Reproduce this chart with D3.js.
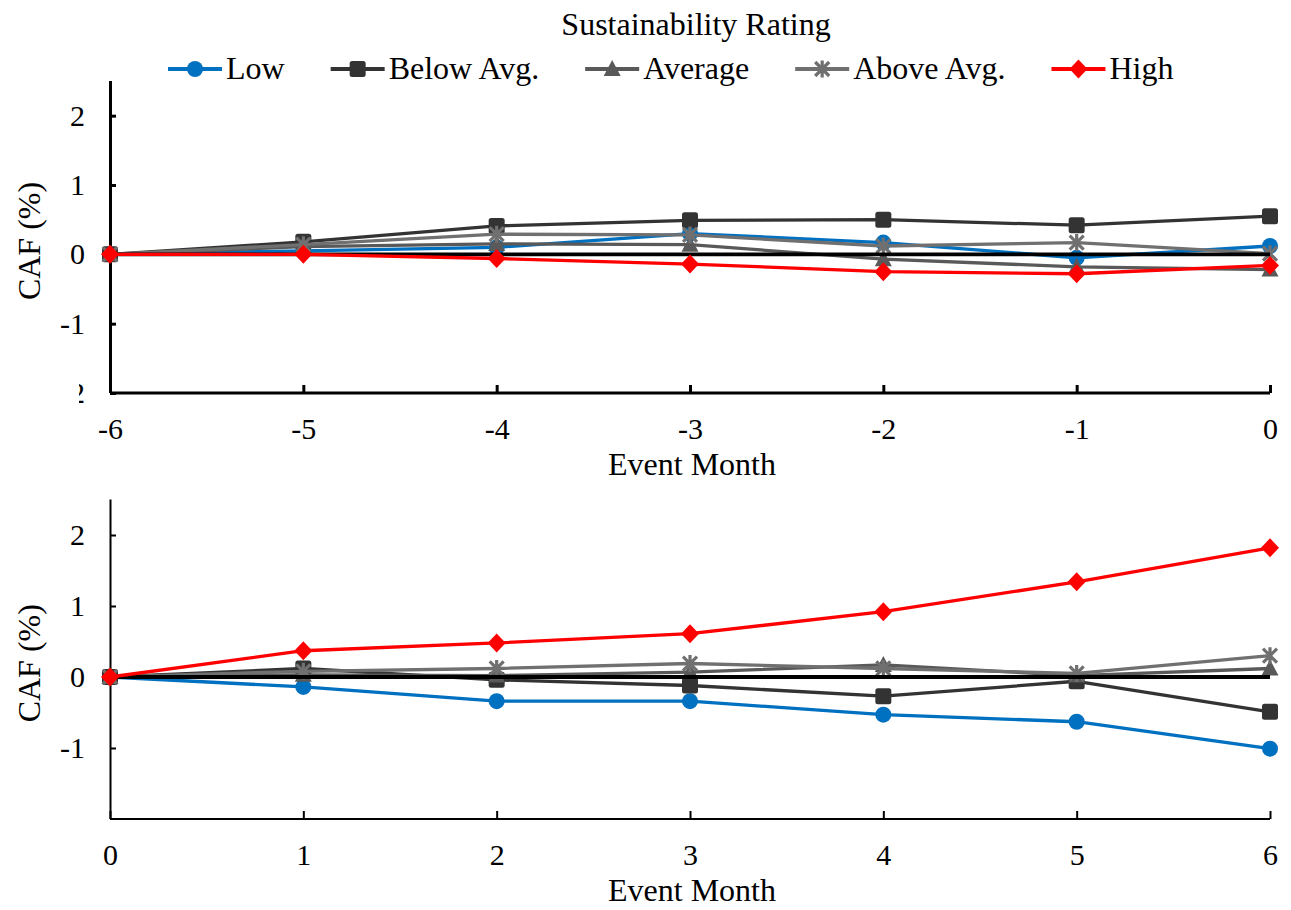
<!DOCTYPE html>
<html>
<head>
<meta charset="utf-8">
<script src="https://cdn.jsdelivr.net/npm/d3@7"></script>
<style>
  body { margin: 0; background: #fff; }
  text { font-family: "Liberation Serif", "Times New Roman", serif; fill: #000; }
</style>
</head>
<body>
<script>
// months on the x axis of each panel
const preMonths = [-6, -5, -4, -3, -2, -1, 0];
const postMonths = [0, 1, 2, 3, 4, 5, 6];

const seriesNames = ['Low', 'Below Avg.', 'Average', 'Above Avg.', 'High'];

// CAF (%) before the event
const preLow = [0, 0.05, 0.10, 0.30, 0.17, -0.05, 0.12];
const preBelow = [0, 0.18, 0.41, 0.49, 0.50, 0.42, 0.55];
const preAverage = [0, 0.11, 0.15, 0.14, -0.07, -0.18, -0.22];
const preAbove = [0, 0.14, 0.29, 0.28, 0.12, 0.17, 0.01];
const preHigh = [0, 0.0, -0.06, -0.14, -0.25, -0.28, -0.16];

// CAF (%) after the event
const postLow = [0, -0.14, -0.34, -0.34, -0.53, -0.63, -1.01];
const postBelow = [0, 0.12, -0.04, -0.12, -0.27, -0.06, -0.49];
const postAverage = [0, 0.03, 0.02, 0.07, 0.17, 0.02, 0.12];
const postAbove = [0, 0.08, 0.12, 0.19, 0.12, 0.05, 0.30];
const postHigh = [0, 0.37, 0.48, 0.61, 0.92, 1.34, 1.82];

const yTicksTop = [-2, -1, 0, 1, 2];
const yTicksBottom = [-1, 0, 1, 2];

const W = 1291, H = 910;
const TICK_FONT = 30;
const LABEL_FONT = 32;

const styles = {
    'Low': { color: '#0070C0', marker: 'circle' },
    'Below Avg.': { color: '#333333', marker: 'square' },
    'Average': { color: '#595959', marker: 'triangle' },
    'Above Avg.': { color: '#707070', marker: 'star' },
    'High': { color: '#FF0000', marker: 'diamond' }
};

const svg = d3.select('body').append('svg')
    .attr('width', W)
    .attr('height', H);

// draw a marker into a group at 0,0
function drawMarker(g, name) {
    const st = styles[name];
    if (st.marker === 'circle') {
        g.append('circle').attr('r', 8).attr('fill', st.color);
    } else if (st.marker === 'square') {
        g.append('rect').attr('x', -8).attr('y', -8).attr('width', 16).attr('height', 16)
            .attr('rx', 2.5).attr('fill', st.color);
    } else if (st.marker === 'triangle') {
        g.append('path').attr('d', 'M0,-9L8.5,7L-8.5,7Z').attr('fill', st.color);
    } else if (st.marker === 'diamond') {
        g.append('path').attr('d', 'M0,-9.5L9,0L0,9.5L-9,0Z').attr('fill', st.color);
    } else {
        g.append('path').attr('d', 'M-7,-7L7,7M-7,7L7,-7M0,-8.5L0,8.5')
            .attr('stroke', st.color).attr('stroke-width', 3.2).attr('fill', 'none');
    }
}

// clip for the half-hidden "-2" label of the top panel (tick-local coords)
svg.append('defs').append('clipPath').attr('id', 'clip-m2')
    .append('rect').attr('x', -31).attr('y', -30).attr('width', 40).attr('height', 60);

function drawPanel(cfg) {
    const x = d3.scaleLinear().domain(d3.extent(cfg.months)).range([110, 1270]);
    const y = d3.scaleLinear().domain([-2, 2.5]).range([cfg.yBottom, cfg.yTop]);

    const g = svg.append('g');

    // y axis, ticks pointing inward
    const yAxis = g.append('g')
        .attr('transform', 'translate(110,0)')
        .call(d3.axisLeft(y).tickValues(cfg.yTicks).tickSize(-6).tickPadding(25)
            .tickFormat(d => String(d)).tickSizeOuter(0));
    yAxis.attr('font-family', null).attr('font-size', null);
    yAxis.select('.domain').attr('stroke', '#000').attr('stroke-width', cfg.axisWidth)
        .attr('d', `M0.5,${cfg.yTop}V${cfg.yBottom}`);
    yAxis.selectAll('.tick line').attr('stroke', '#000').attr('stroke-width', cfg.axisWidth);
    yAxis.selectAll('.tick text')
        .style('font-size', TICK_FONT + 'px')
        .attr('clip-path', d => d === -2 ? 'url(#clip-m2)' : null);

    // x axis
    const xAxis = g.append('g')
        .attr('transform', `translate(0,${cfg.yBottom})`)
        .call(d3.axisBottom(x).tickValues(cfg.months).tickSize(-8).tickPadding(cfg.xPad)
            .tickFormat(d => String(d)).tickSizeOuter(0));
    xAxis.attr('font-family', null).attr('font-size', null);
    xAxis.select('.domain').attr('stroke', '#000').attr('stroke-width', cfg.axisWidth)
        .attr('d', `M110,0H1270`);
    xAxis.selectAll('.tick line').attr('stroke', '#000').attr('stroke-width', cfg.axisWidth);
    xAxis.selectAll('.tick text').style('font-size', TICK_FONT + 'px');

    // axis titles
    g.append('text')
        .attr('transform', `translate(40,${(cfg.yTop + cfg.yBottom) / 2 + 4}) rotate(-90)`)
        .attr('text-anchor', 'middle')
        .style('font-size', LABEL_FONT + 'px')
        .text('CAF (%)');
    g.append('text')
        .attr('x', 692).attr('y', cfg.yBottom + cfg.titleOff)
        .attr('text-anchor', 'middle')
        .style('font-size', LABEL_FONT + 'px')
        .text('Event Month');

    const line = d3.line()
        .x((d, i) => x(cfg.months[i]))
        .y(d => y(d));

    const drawSeries = (name, values) => {
        const sg = g.append('g');
        sg.append('path')
            .datum(values)
            .attr('d', line)
            .attr('fill', 'none')
            .attr('stroke', styles[name].color)
            .attr('stroke-width', 3.3)
            .attr('stroke-linejoin', 'round');
        values.forEach((v, i) => {
            const mg = sg.append('g')
                .attr('transform', `translate(${x(cfg.months[i])},${y(v)})`);
            drawMarker(mg, name);
        });
    };

    cfg.series.slice(0, 4).forEach((vals, i) => drawSeries(seriesNames[i], vals));

    // zero reference line
    g.append('line')
        .attr('x1', x(cfg.months[0])).attr('x2', x(cfg.months[cfg.months.length - 1]))
        .attr('y1', y(0)).attr('y2', y(0))
        .attr('stroke', '#000').attr('stroke-width', 3.8);

    drawSeries(seriesNames[4], cfg.series[4]);
}

drawPanel({
    months: preMonths,
    series: [preLow, preBelow, preAverage, preAbove, preHigh],
    yTicks: yTicksTop,
    yTop: 81, yBottom: 393,
    axisWidth: 3,
    xPad: 25,
    titleOff: 82
});

drawPanel({
    months: postMonths,
    series: [postLow, postBelow, postAverage, postAbove, postHigh],
    yTicks: yTicksBottom,
    yTop: 499.5, yBottom: 819,
    axisWidth: 2,
    xPad: 25,
    titleOff: 82
});

// legend
svg.append('text')
    .attr('x', 696).attr('y', 35)
    .attr('text-anchor', 'middle')
    .style('font-size', LABEL_FONT + 'px')
    .text('Sustainability Rating');

const legend = svg.append('g').attr('transform', 'translate(0,69)');
let lx = 168;
seriesNames.forEach(name => {
    const item = legend.append('g').attr('transform', `translate(${lx},0)`);
    item.append('line').attr('x1', 0).attr('x2', 54).attr('y1', 0).attr('y2', 0)
        .attr('stroke', styles[name].color).attr('stroke-width', 4);
    drawMarker(item.append('g').attr('transform', 'translate(27,0)'), name);
    const t = item.append('text')
        .attr('x', 58).attr('y', 10)
        .style('font-size', LABEL_FONT + 'px')
        .text(name);
    lx += 58 + t.node().getComputedTextLength() + 46;
});
</script>
</body>
</html>
